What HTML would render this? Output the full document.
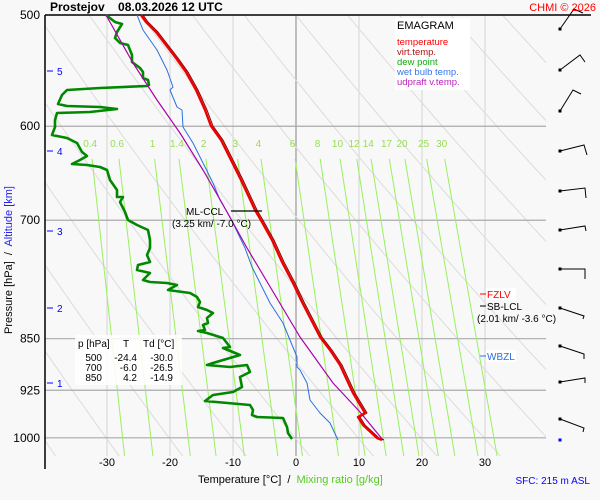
<!DOCTYPE html>
<html><head><meta charset="utf-8"><style>
html,body{margin:0;padding:0;background:#f8f8f8;}
svg{display:block;font-family:"Liberation Sans",Arial,sans-serif;}
text{white-space:pre;}
</style></head><body>
<svg id="s" width="600" height="500" viewBox="0 0 600 500" xmlns="http://www.w3.org/2000/svg">
<rect width="600" height="500" fill="#f8f8f8"/>
<g id="grid"></g>
<g id="data"></g>
<g id="over"></g>
</svg>
<script>
const NS="http://www.w3.org/2000/svg";
const X=t=>296+6.3*t, Y=p=>15+610*Math.log(p/500);
function el(par,tag,a,txt){const e=document.createElementNS(NS,tag);for(const k in a)e.setAttribute(k,a[k]);if(txt!==undefined)e.textContent=txt;document.getElementById(par).appendChild(e);return e;}
const L=45,R=546,B=456;
const defs=el('grid','clipPath',{id:'c'});
const cr=document.createElementNS(NS,'rect');cr.setAttribute('x',L);cr.setAttribute('y',15);cr.setAttribute('width',R-L);cr.setAttribute('height',B-15);defs.appendChild(cr);
for(let t=-30;t<=30;t+=10){el('grid','line',{x1:X(t),x2:X(t),y1:15,y2:B,stroke:t==0?'#999':'#d4d4d4','stroke-width':t==0?1.2:1});}
for(let th=213;th<=433;th+=10){let pts=[];for(let p=480;p<=1040;p+=10){const T=th*Math.pow(p/1000,0.286)-273.15;pts.push(X(T).toFixed(1)+','+Y(p).toFixed(1));}
el('grid','polyline',{points:pts.join(' '),fill:'none',stroke:'#dcdcdc','stroke-width':1,'clip-path':'url(#c)'});}
[[600,'600'],[700,'700'],[850,'850'],[925,'925'],[1000,'1000']].forEach(([p,s])=>{el('grid','line',{x1:L,x2:R,y1:Y(p),y2:Y(p),stroke:'#aaa','stroke-width':1.2});el('grid','text',{x:40,y:Y(p)+4,'font-size':12,'text-anchor':'end',fill:'#000'},s);});
el('grid','text',{x:40,y:19,'font-size':12,'text-anchor':'end'},'500');
const ws=[0.4,0.6,1,1.4,2,3,4,6,8,10,12,14,17,20,25,30];
function Td(w,p){const e=w*p/(622+w);const l=Math.log(e/6.112);return 243.5*l/(17.67-l);}
ws.forEach(w=>{const p0=633;el('grid','line',{x1:X(Td(w,p0)),y1:Y(p0),x2:X(Td(w,1030)),y2:B,stroke:'#99f060','stroke-width':1});
el('grid','text',{x:X(Td(w,615)),y:147,'font-size':10,'text-anchor':'middle',fill:'#99dd55'},String(w));});
el('grid','line',{x1:L,x2:L,y1:15,y2:469,stroke:'#000','stroke-width':1.5});
el('grid','line',{x1:L,x2:591,y1:15,y2:15,stroke:'#000','stroke-width':1.5});
[-30,-20,-10,0,10,20,30].forEach(t=>el('grid','text',{x:X(t),y:466,'font-size':11,'text-anchor':'middle'},String(t)));
[[5,71],[4,151],[3,231],[2,308],[1,383]].forEach(([k,y])=>{el('grid','line',{x1:47,x2:53,y1:y,y2:y,stroke:'#00f'});el('grid','text',{x:57,y:y+4,'font-size':10,fill:'#00f'},String(k));});

function pl(pts,stroke,w){el('data','polyline',{points:pts.map(a=>a.join(',')).join(' '),fill:'none',stroke:stroke,'stroke-width':w,'stroke-linejoin':'round'});}
const dew=[[106,15],[115,22],[122,24],[117,32],[115,38],[120,43],[128,45],[132,55],[132,62],[140,68],[143,72],[143,78],[148,80],[149,85],[147,86],[100,88],[67,90],[62,95],[58,104],[67,106],[100,107],[117,109],[90,112],[57,113],[55,120],[55,127],[52,135],[67,138],[77,143],[82,152],[87,156],[80,160],[72,164],[87,165],[100,167],[107,170],[110,180],[117,190],[117,197],[123,197],[120,202],[125,212],[128,220],[137,225],[148,230],[150,240],[150,248],[147,255],[150,262],[138,265],[137,270],[150,273],[143,280],[150,282],[167,283],[177,285],[168,290],[190,293],[197,297],[200,302],[198,307],[207,310],[213,313],[207,318],[208,323],[203,325],[205,330],[198,331],[207,333],[223,338],[230,347],[223,348],[240,355],[213,363],[207,365],[230,367],[247,365],[250,372],[240,377],[242,387],[233,392],[213,395],[205,401],[250,405],[253,410],[252,415],[257,417],[283,418],[287,427],[288,433],[292,439]];
pl(dew,'#008800',2.6);
pl([[137,15],[143,30],[157,50],[167,70],[173,87],[170,90],[177,107],[182,110],[183,127],[193,143],[203,163],[213,183],[220,200],[230,217],[245,248],[252,267],[260,283],[270,303],[283,323],[290,340],[297,357],[297,367],[300,370],[307,383],[310,400],[320,413],[330,423],[338,440]],'#2a6fe0',1);
pl([[106,15],[133,63],[157,100],[180,133],[203,170],[222,203],[247,248],[272,290],[300,337],[333,383],[360,412],[383,440]],'#aa00aa',1.2);
const tmp=[[141,15],[146,22],[156,32],[166,45],[176,58],[186,72],[196,90],[205,110],[211,126],[221,140],[231,160],[241,180],[255,210],[262,222],[272,240],[282,262],[293,283],[302,302],[320,337],[330,350],[340,365],[353,393],[365,413],[358,417],[363,425],[377,438],[382,440]];
pl(tmp.map(([x,y])=>[x+2,y]),'#8b0000',1);
pl(tmp,'#ee0000',2.4);
el('over','line',{x1:231,x2:262,y1:211,y2:211,stroke:'#000','stroke-width':1.2});
el('over','text',{x:186,y:215,'font-size':10},'ML-CCL');
el('over','text',{x:172,y:227,'font-size':10},'(3.25 km/ -7.0 °C)');
el('over','rect',{x:395,y:18,width:75,height:72,fill:'#fff'});
el('over','text',{x:397,y:29,'font-size':11},'EMAGRAM');
[['temperature','#ff0000'],['virt.temp.','#aa1111'],['dew point','#11aa11'],['wet bulb temp.','#3377ee'],['udpraft v.temp.','#bb22bb']].forEach(([t,c],i)=>el('over','text',{x:397,y:45+i*10,'font-size':9.5,fill:c},t));
el('over','rect',{x:75,y:335,width:107,height:50,fill:'#fff','fill-opacity':0.85});
el('over','text',{x:78,y:347,'font-size':10},'p [hPa]');
el('over','text',{x:123,y:347,'font-size':10},'T');
el('over','text',{x:143,y:347,'font-size':10},'Td [°C]');
[['500','-24.4','-30.0'],['700','-6.0','-26.5'],['850','4.2','-14.9']].forEach((r,i)=>{const y=361+i*10;el('over','text',{x:102,y:y,'font-size':10,'text-anchor':'end'},r[0]);el('over','text',{x:137,y:y,'font-size':10,'text-anchor':'end'},r[1]);el('over','text',{x:173,y:y,'font-size':10,'text-anchor':'end'},r[2]);});
el('over','rect',{x:486,y:288,width:30,height:12,fill:'#fff'});
el('over','line',{x1:480,x2:486,y1:294,y2:294,stroke:'#f00'});
el('over','text',{x:487,y:298,'font-size':10,fill:'#f00'},'FZLV');
el('over','line',{x1:480,x2:486,y1:306,y2:306,stroke:'#000'});
el('over','text',{x:487,y:310,'font-size':10},'SB-LCL');
el('over','text',{x:477,y:322,'font-size':10},'(2.01 km/ -3.6 °C)');
el('over','rect',{x:486,y:350,width:30,height:12,fill:'#fff'});
el('over','line',{x1:480,x2:486,y1:356,y2:356,stroke:'#2a6fe0'});
el('over','text',{x:487,y:360,'font-size':10,fill:'#2a6fe0'},'WBZL');
[[29,574,9,583,13],[70,580,55,585,62],[111,573,90,581,94],[151,584,145,587,155],[191,585,188,586,198],[230,585,226,586,231],[269,585,269,585,279],[308,584,316,583,319],[346,584,354,584,359],[382,585,378,585,383],[419,584,428,583,432]].forEach(([y,x2,y2,x3,y3])=>{el('over','polyline',{points:`560,${y} ${x2},${y2} ${x3},${y3}`,fill:'none',stroke:'#000','stroke-width':1});el('over','rect',{x:558.5,y:y-1.5,width:3,height:3,fill:'#000'});});
el('over','rect',{x:558.5,y:438.5,width:3,height:3,fill:'#00f'});
el('over','text',{x:50,y:11,'font-size':12,'font-weight':'bold'},'Prostejov    08.03.2026 12 UTC');
el('over','text',{x:596,y:11,'font-size':11,fill:'#f00','text-anchor':'end'},'CHMI © 2026');
const t=el('over','text',{x:198,y:483,'font-size':11});
t.innerHTML='Temperature [°C]  /  <tspan fill="#55cc22">Mixing ratio [g/kg]</tspan>';
el('over','text',{x:590,y:484,'font-size':10,fill:'#00f','text-anchor':'end'},'SFC: 215 m ASL');
const yl=el('over','text',{x:0,y:0,'font-size':11,transform:'translate(12,260) rotate(-90)','text-anchor':'middle'});
yl.innerHTML='Pressure [hPa]  /  <tspan fill="#2222ee">Altitude [km]</tspan>';
</script>
</body></html>
